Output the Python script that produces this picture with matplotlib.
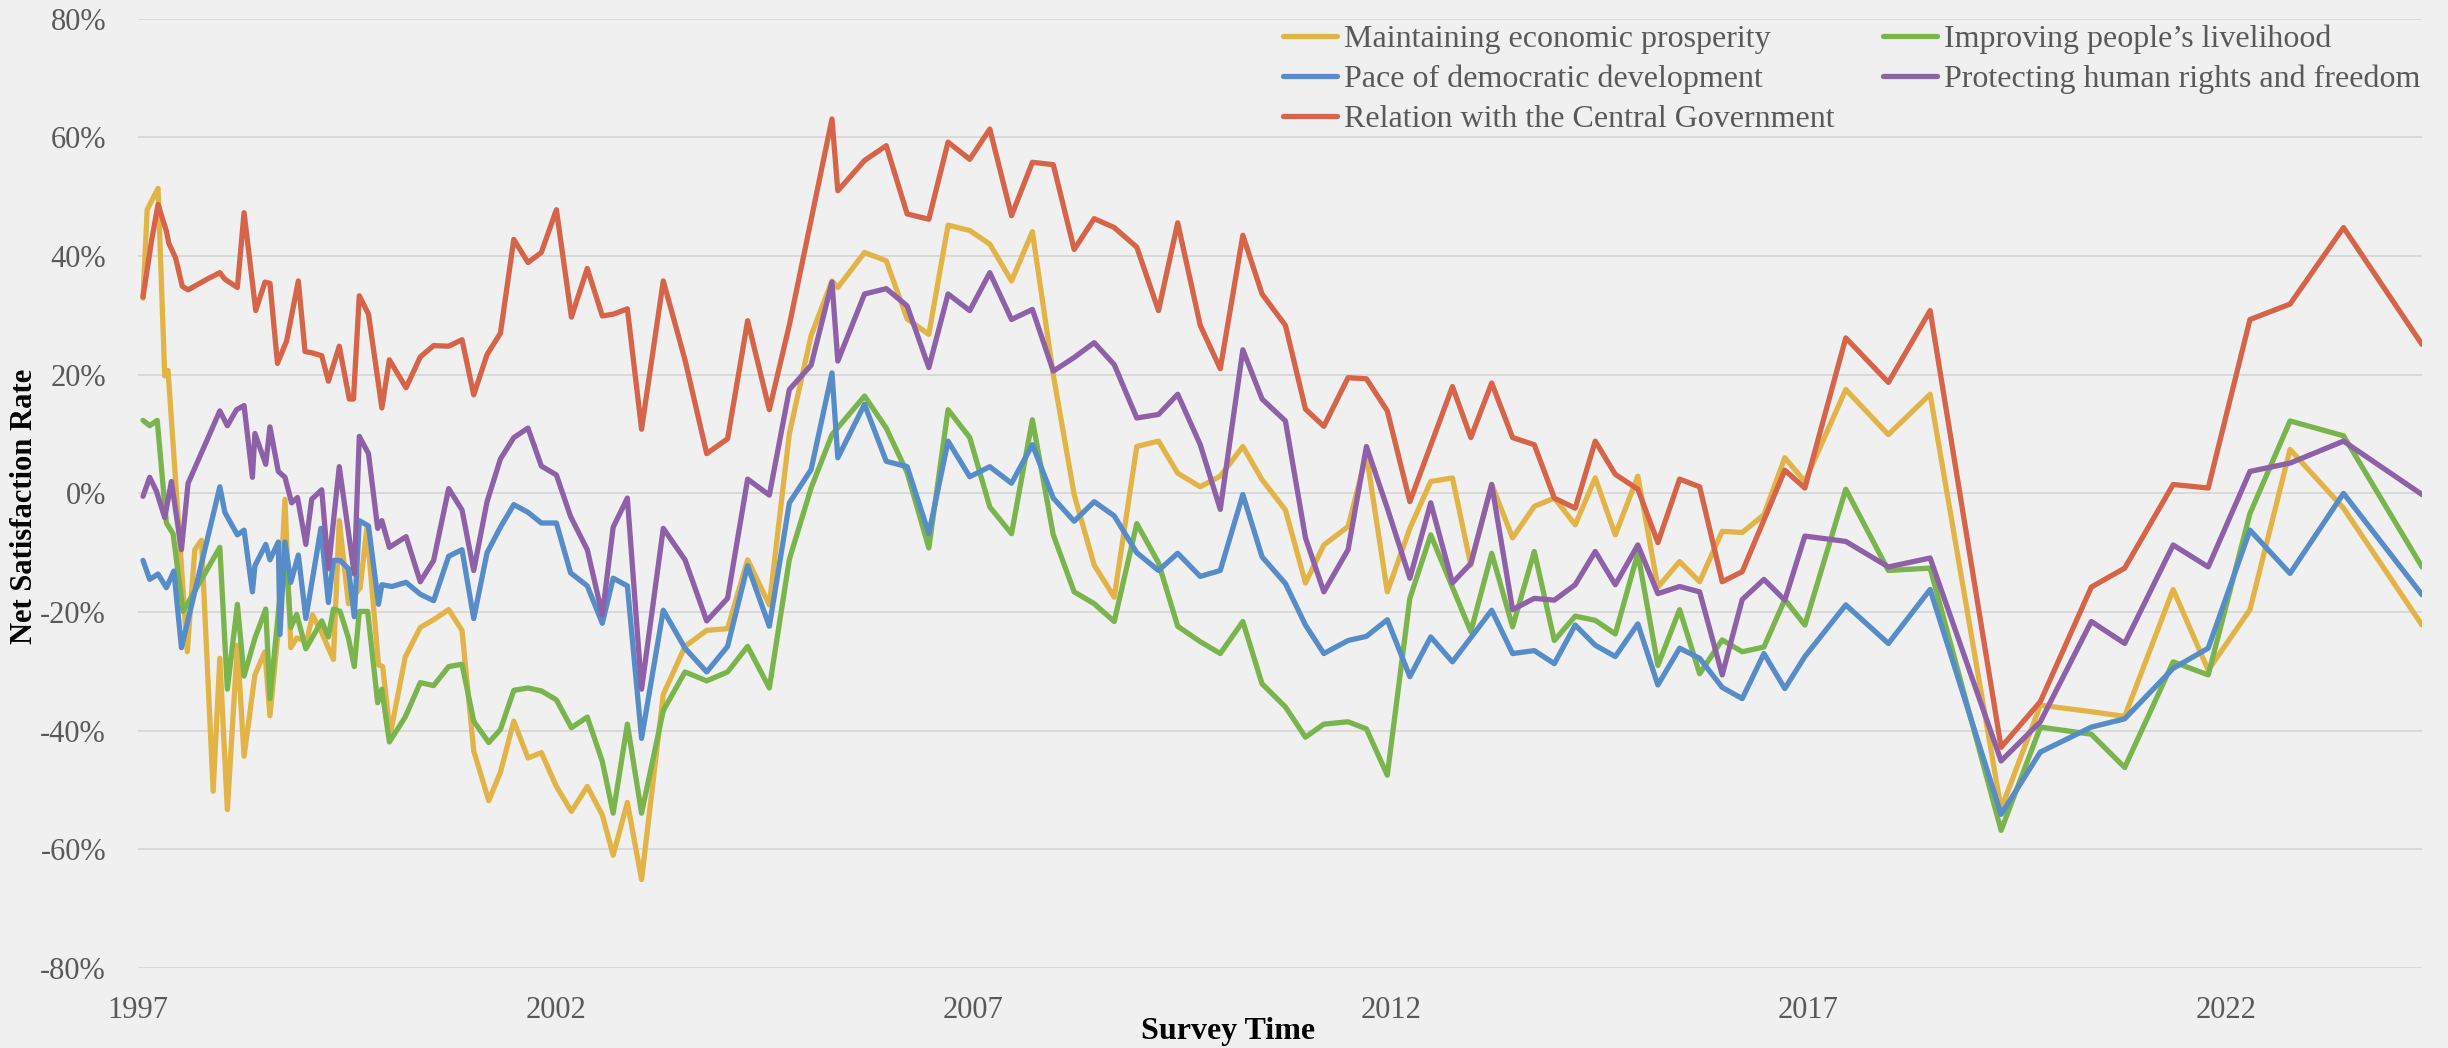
#!/usr/bin/env python3
"""Net satisfaction rate of the HKSAR Government's performance, 1997-2024."""

import matplotlib
matplotlib.use("Agg")
import matplotlib.pyplot as plt
from matplotlib.ticker import FuncFormatter

# ── data (decimal year, net satisfaction %) ─────────────────
econ_t = [1997.06, 1997.11, 1997.24, 1997.32, 1997.36, 1997.59, 1997.68, 1997.76, 1997.90, 1997.98,
          1998.07, 1998.19, 1998.27, 1998.40, 1998.52, 1998.58, 1998.68, 1998.76, 1998.83, 1998.90,
          1999.02, 1999.09, 1999.20, 1999.34, 1999.41, 1999.52, 1999.66, 1999.74, 1999.88, 1999.93,
          2000.02, 2000.20, 2000.38, 2000.54, 2000.72, 2000.88, 2001.02, 2001.20, 2001.34, 2001.50,
          2001.67, 2001.83, 2002.01, 2002.19, 2002.38, 2002.56, 2002.69, 2002.86, 2003.03, 2003.29,
          2003.55, 2003.81, 2004.06, 2004.30, 2004.56, 2004.80, 2005.06, 2005.31, 2005.38, 2005.70,
          2005.96, 2006.21, 2006.47, 2006.70, 2006.96, 2007.20, 2007.46, 2007.71, 2007.96, 2008.21,
          2008.45, 2008.69, 2008.96, 2009.22, 2009.45, 2009.72, 2009.96, 2010.23, 2010.46, 2010.74,
          2010.98, 2011.20, 2011.49, 2011.71, 2011.96, 2012.23, 2012.48, 2012.74, 2012.96, 2013.21,
          2013.46, 2013.72, 2013.96, 2014.21, 2014.45, 2014.69, 2014.96, 2015.20, 2015.46, 2015.70,
          2015.97, 2016.21, 2016.47, 2016.72, 2016.96, 2017.45, 2017.96, 2018.46, 2019.31, 2019.78,
          2020.39, 2020.79, 2021.37, 2021.79, 2022.29, 2022.77, 2023.41, 2024.35]
econ = [32.9, 47.8, 51.4, 19.8, 20.7, -26.7, -9.5, -7.9, -50.2, -27.8,
        -53.3, -25.6, -44.3, -30.6, -26.7, -37.5, -23.1, -1.0, -26.0, -24.4,
        -24.9, -20.5, -23.5, -28.0, -4.6, -18.6, -15.9, -5.9, -28.9, -29.2,
        -40.7, -27.6, -22.6, -21.3, -19.6, -23.1, -43.4, -51.8, -47.0, -38.4,
        -44.6, -43.7, -49.4, -53.6, -49.4, -54.2, -61.0, -52.1, -65.1, -33.9,
        -25.8, -23.1, -22.8, -11.2, -18.8, 10.1, 26.6, 35.8, 34.7, 40.6,
        39.2, 29.4, 26.8, 45.2, 44.3, 42.0, 35.8, 44.1, 20.0, -0.2,
        -12.1, -17.5, 7.9, 8.8, 3.4, 1.1, 2.9, 7.9, 2.3, -2.8,
        -15.1, -8.7, -5.6, 6.5, -16.6, -5.9, 2.0, 2.6, -12.1, 1.5,
        -7.5, -2.2, -0.8, -5.3, 2.6, -7.0, 2.9, -15.8, -11.5, -14.9,
        -6.4, -6.6, -3.6, 6.0, 2.0, 17.5, 9.9, 16.7, -53.2, -35.7,
        -36.8, -37.6, -16.2, -29.8, -19.6, 7.4, -2.5, -22.2]

live_t = [1997.06, 1997.14, 1997.23, 1997.34, 1997.42, 1997.54, 1997.98, 1998.07, 1998.19, 1998.27,
          1998.40, 1998.53, 1998.58, 1998.76, 1998.83, 1998.90, 1999.01, 1999.20, 1999.28, 1999.34,
          1999.42, 1999.52, 1999.59, 1999.65, 1999.75, 1999.87, 1999.92, 2000.01, 2000.20, 2000.38,
          2000.54, 2000.72, 2000.88, 2001.02, 2001.20, 2001.34, 2001.50, 2001.67, 2001.83, 2002.01,
          2002.19, 2002.38, 2002.56, 2002.69, 2002.86, 2003.03, 2003.29, 2003.55, 2003.81, 2004.06,
          2004.30, 2004.56, 2004.80, 2005.06, 2005.31, 2005.70, 2005.96, 2006.21, 2006.47, 2006.70,
          2006.96, 2007.20, 2007.46, 2007.71, 2007.96, 2008.21, 2008.45, 2008.69, 2008.96, 2009.22,
          2009.45, 2009.72, 2009.96, 2010.23, 2010.46, 2010.74, 2010.98, 2011.20, 2011.49, 2011.71,
          2011.96, 2012.23, 2012.48, 2012.96, 2013.21, 2013.46, 2013.72, 2013.96, 2014.21, 2014.45,
          2014.69, 2014.96, 2015.20, 2015.46, 2015.70, 2015.97, 2016.21, 2016.47, 2016.72, 2016.96,
          2017.45, 2017.96, 2018.46, 2019.31, 2019.78, 2020.39, 2020.79, 2021.37, 2021.79, 2022.29,
          2022.77, 2023.41, 2024.35]
live = [12.3, 11.4, 12.3, -5.0, -6.8, -19.9, -9.1, -33.0, -18.7, -30.8,
        -24.4, -19.5, -34.6, -8.6, -22.6, -20.4, -26.2, -21.5, -24.2, -19.5,
        -19.9, -24.4, -29.2, -19.9, -19.9, -35.3, -33.0, -41.9, -37.7, -31.9,
        -32.4, -29.2, -28.8, -38.4, -42.0, -39.8, -33.2, -32.8, -33.3, -34.8,
        -39.5, -37.7, -45.2, -53.9, -38.9, -53.9, -36.6, -30.1, -31.6, -30.1,
        -25.8, -32.8, -11.1, 0.9, 9.9, 16.4, 11.0, 3.5, -9.2, 14.1,
        9.4, -2.3, -6.8, 12.4, -7.0, -16.6, -18.6, -21.6, -5.1, -11.7,
        -22.4, -25.0, -27.0, -21.6, -32.1, -36.0, -41.1, -38.9, -38.5, -39.7,
        -47.5, -17.7, -7.0, -23.3, -10.1, -22.5, -9.8, -24.8, -20.7, -21.4,
        -23.7, -10.1, -29.0, -19.6, -30.4, -24.7, -26.7, -25.9, -17.9, -22.2,
        0.7, -13.0, -12.6, -56.8, -39.4, -40.6, -46.2, -28.4, -30.6, -3.4,
        12.2, 9.7, -12.4]

demo_t = [1997.06, 1997.14, 1997.24, 1997.34, 1997.43, 1997.52, 1997.98, 1998.04, 1998.19, 1998.27,
          1998.37, 1998.40, 1998.53, 1998.58, 1998.68, 1998.70, 1998.76, 1998.83, 1998.92, 1999.01,
          1999.19, 1999.28, 1999.34, 1999.42, 1999.52, 1999.59, 1999.65, 1999.76, 1999.88, 1999.92,
          2000.04, 2000.21, 2000.38, 2000.54, 2000.72, 2000.88, 2001.02, 2001.18, 2001.34, 2001.50,
          2001.67, 2001.83, 2002.01, 2002.18, 2002.38, 2002.56, 2002.69, 2002.86, 2003.03, 2003.29,
          2003.55, 2003.81, 2004.06, 2004.30, 2004.56, 2004.80, 2005.06, 2005.31, 2005.38, 2005.70,
          2005.96, 2006.21, 2006.47, 2006.70, 2006.96, 2007.20, 2007.46, 2007.71, 2007.96, 2008.21,
          2008.45, 2008.69, 2008.96, 2009.22, 2009.45, 2009.72, 2009.96, 2010.23, 2010.46, 2010.74,
          2010.98, 2011.20, 2011.49, 2011.71, 2011.96, 2012.23, 2012.48, 2012.74, 2013.21, 2013.46,
          2013.72, 2013.96, 2014.21, 2014.45, 2014.69, 2014.96, 2015.20, 2015.46, 2015.70, 2015.97,
          2016.21, 2016.47, 2016.72, 2016.96, 2017.45, 2017.96, 2018.46, 2019.31, 2019.78, 2020.39,
          2020.79, 2021.37, 2021.79, 2022.29, 2022.77, 2023.41, 2024.35]
demo = [-11.3, -14.5, -13.6, -15.9, -13.1, -26.0, 1.1, -3.2, -7.0, -6.2,
        -16.6, -12.2, -8.6, -11.2, -8.2, -23.8, -8.2, -15.0, -10.4, -21.1,
        -5.9, -18.4, -11.3, -11.3, -12.7, -20.8, -4.6, -5.5, -18.7, -15.4,
        -15.7, -15.0, -17.0, -18.1, -10.6, -9.5, -21.1, -10.0, -5.7, -1.9,
        -3.2, -5.0, -5.0, -13.4, -15.6, -21.9, -14.3, -15.6, -41.3, -19.7,
        -26.1, -30.1, -25.8, -12.2, -22.4, -1.6, 4.0, 20.3, 6.0, 15.0,
        5.4, 4.5, -6.8, 8.8, 2.8, 4.5, 1.7, 8.2, -0.8, -4.7,
        -1.4, -3.8, -10.0, -13.0, -10.1, -14.0, -13.0, -0.2, -10.7, -15.2,
        -22.2, -27.0, -24.8, -24.1, -21.3, -30.9, -24.2, -28.4, -19.7, -27.0,
        -26.5, -28.7, -22.2, -25.6, -27.5, -22.0, -32.3, -26.1, -27.8, -32.7,
        -34.6, -27.0, -32.9, -27.5, -18.8, -25.3, -16.2, -54.1, -43.6, -39.4,
        -38.0, -29.5, -26.1, -6.2, -13.5, 0.0, -17.1]

rights_t = [1997.06, 1997.14, 1997.22, 1997.32, 1997.40, 1997.52, 1997.60, 1997.98, 1998.07, 1998.18,
            1998.27, 1998.37, 1998.40, 1998.53, 1998.58, 1998.68, 1998.76, 1998.84, 1998.91, 1999.01,
            1999.08, 1999.20, 1999.28, 1999.41, 1999.59, 1999.65, 1999.76, 1999.87, 1999.92, 2000.01,
            2000.21, 2000.38, 2000.54, 2000.72, 2000.88, 2001.02, 2001.18, 2001.34, 2001.50, 2001.67,
            2001.83, 2002.01, 2002.18, 2002.38, 2002.56, 2002.69, 2002.86, 2003.03, 2003.29, 2003.55,
            2003.81, 2004.06, 2004.30, 2004.56, 2004.80, 2005.06, 2005.31, 2005.38, 2005.70, 2005.96,
            2006.21, 2006.47, 2006.70, 2006.96, 2007.20, 2007.46, 2007.71, 2007.96, 2008.21, 2008.45,
            2008.69, 2008.96, 2009.22, 2009.45, 2009.72, 2009.96, 2010.23, 2010.46, 2010.74, 2010.98,
            2011.20, 2011.49, 2011.71, 2011.96, 2012.23, 2012.48, 2012.74, 2012.96, 2013.21, 2013.46,
            2013.72, 2013.96, 2014.21, 2014.45, 2014.69, 2014.96, 2015.20, 2015.46, 2015.70, 2015.97,
            2016.21, 2016.47, 2016.72, 2016.96, 2017.45, 2017.96, 2018.46, 2019.31, 2019.78, 2020.39,
            2020.79, 2021.37, 2021.79, 2022.29, 2022.77, 2023.41, 2024.35]
rights = [-0.5, 2.7, 0.4, -4.1, 2.0, -9.5, 1.7, 13.9, 11.4, 14.1,
          14.8, 2.7, 10.1, 4.9, 11.2, 3.7, 2.7, -1.6, -0.7, -8.6,
          -1.0, 0.6, -12.7, 4.5, -13.6, 9.6, 6.7, -5.9, -4.6, -9.1,
          -7.3, -14.9, -11.3, 0.8, -2.8, -13.0, -1.4, 5.8, 9.4, 11.0,
          4.6, 3.1, -3.9, -9.5, -20.5, -5.7, -0.8, -33.0, -5.9, -11.2,
          -21.5, -17.7, 2.4, -0.3, 17.5, 21.6, 35.6, 22.3, 33.6, 34.5,
          31.6, 21.2, 33.6, 30.8, 37.2, 29.3, 31.0, 20.6, 22.9, 25.4,
          21.7, 12.7, 13.3, 16.7, 8.2, -2.7, 24.2, 15.9, 12.2, -7.5,
          -16.6, -9.5, 7.9, -2.5, -14.3, -1.6, -15.1, -11.8, 1.5, -19.6,
          -17.7, -18.0, -15.4, -9.8, -15.4, -8.7, -16.9, -15.7, -16.6, -30.6,
          -17.9, -14.5, -18.0, -7.2, -8.1, -12.4, -10.9, -45.1, -38.5, -21.6,
          -25.3, -8.7, -12.4, 3.7, 5.1, 8.8, -0.2]

cgov_t = [1997.06, 1997.16, 1997.24, 1997.34, 1997.37, 1997.45, 1997.53, 1997.60, 1997.84, 1997.98,
          1998.04, 1998.19, 1998.27, 1998.41, 1998.52, 1998.58, 1998.67, 1998.78, 1998.92, 1999.00,
          1999.08, 1999.20, 1999.28, 1999.41, 1999.53, 1999.58, 1999.65, 1999.76, 1999.92, 2000.01,
          2000.21, 2000.38, 2000.54, 2000.72, 2000.88, 2001.02, 2001.18, 2001.34, 2001.50, 2001.67,
          2001.83, 2002.01, 2002.19, 2002.38, 2002.56, 2002.69, 2002.86, 2003.03, 2003.29, 2003.55,
          2003.81, 2004.06, 2004.30, 2004.56, 2004.80, 2005.31, 2005.38, 2005.70, 2005.96, 2006.21,
          2006.47, 2006.70, 2006.96, 2007.20, 2007.46, 2007.71, 2007.96, 2008.21, 2008.45, 2008.69,
          2008.96, 2009.22, 2009.45, 2009.72, 2009.96, 2010.23, 2010.46, 2010.74, 2010.98, 2011.20,
          2011.49, 2011.71, 2011.96, 2012.23, 2012.74, 2012.96, 2013.21, 2013.46, 2013.72, 2013.96,
          2014.21, 2014.45, 2014.69, 2014.96, 2015.20, 2015.46, 2015.70, 2015.97, 2016.21, 2016.72,
          2016.96, 2017.45, 2017.96, 2018.46, 2019.31, 2019.78, 2020.39, 2020.79, 2021.37, 2021.79,
          2022.29, 2022.77, 2023.41, 2024.35]
cgov = [33.1, 42.4, 48.7, 44.2, 42.1, 39.7, 34.9, 34.3, 36.2, 37.2,
        36.1, 34.7, 47.3, 30.8, 35.6, 35.4, 21.9, 25.7, 35.8, 23.9,
        23.7, 23.2, 18.9, 24.8, 15.9, 15.9, 33.3, 30.2, 14.4, 22.5,
        17.8, 23.0, 24.9, 24.8, 25.9, 16.6, 23.4, 27.0, 42.8, 38.9,
        40.6, 47.8, 29.7, 37.9, 29.9, 30.2, 31.1, 10.8, 35.8, 22.5,
        6.7, 9.2, 29.1, 14.1, 28.4, 63.1, 51.0, 56.1, 58.6, 47.1,
        46.2, 59.2, 56.3, 61.4, 46.8, 55.8, 55.4, 41.1, 46.3, 44.8,
        41.5, 30.8, 45.6, 28.3, 21.0, 43.5, 33.6, 28.3, 14.2, 11.3,
        19.5, 19.3, 13.9, -1.4, 18.0, 9.4, 18.6, 9.4, 8.2, -0.8,
        -2.5, 8.8, 3.2, 0.7, -8.3, 2.4, 1.1, -14.9, -13.2, 3.9,
        0.9, 26.2, 18.7, 30.8, -42.8, -35.1, -15.8, -12.6, 1.5, 0.9,
        29.3, 31.9, 44.8, 25.1]

series = [
    ("Maintaining economic prosperity", econ_t, econ, "#E2B448"),
    ("Improving people\u2019s livelihood", live_t, live, "#7AB44C"),
    ("Pace of democratic development", demo_t, demo, "#568CC8"),
    ("Protecting human rights and freedom", rights_t, rights, "#8E60A8"),
    ("Relation with the Central Government", cgov_t, cgov, "#D66448"),
]
year_ticks = [1997, 2002, 2007, 2012, 2017, 2022]

# ── plot ────────────────────────────────────────
plt.rcParams["font.family"] = ["Liberation Serif", "DejaVu Serif"]
BG = "#f0f0f0"
GREY = "#595959"

fig = plt.figure(figsize=(24.48, 10.48), dpi=100, facecolor=BG)
ax = fig.add_axes([138 / 2448, 1 - 968 / 1048, (2422 - 138) / 2448, (968 - 18.7) / 1048])
ax.set_facecolor(BG)

lines = {}
for name, t, v, col in series:
    ln, = ax.plot(t, v, color=col, lw=3.8, solid_joinstyle="round",
                  solid_capstyle="round", label=name)
    lines[name] = ln

ax.set_xlim(1997, 2024.35)
ax.set_ylim(-80, 80)
ax.set_yticks(range(-80, 81, 20))
ax.yaxis.set_major_formatter(FuncFormatter(lambda v, _: f"{v:.0f}%"))
ax.set_xticks(year_ticks)
ax.set_xticklabels([str(y) for y in year_ticks])
ax.tick_params(axis="both", length=0, labelsize=22, labelcolor=GREY)
ax.tick_params(axis="y", pad=23)
ax.tick_params(axis="x", pad=20)
ax.grid(axis="y", color="#d9d9d9", lw=1.4)
ax.set_axisbelow(True)
for s in ax.spines.values():
    s.set_visible(False)

fig.text(1228 / 2448, 1 - 1031 / 1048, "Survey Time", ha="center", va="center",
         fontsize=23, fontweight="bold", color="black")
fig.text(25 / 2448, 1 - 506 / 1048, "Net Satisfaction Rate", ha="center", va="center",
         rotation=90, fontsize=22, fontweight="bold", color="black")

# matplotlib fills legend columns first, Excel fills rows first
order = [0, 2, 4, 1, 3]
handles = [lines[series[i][0]] for i in order]
labels = [series[i][0] for i in order]
leg = fig.legend(handles, labels, loc="upper left", ncol=2,
                 bbox_to_anchor=(1283 / 2448, 1 - 25 / 1048), frameon=False,
                 fontsize=23, handlelength=1.7, handletextpad=0.22,
                 columnspacing=1.5, labelspacing=0.32, borderpad=0, borderaxespad=0)
for txt in leg.get_texts():
    txt.set_color(GREY)

fig.savefig("out.png", dpi=100, facecolor=BG)
